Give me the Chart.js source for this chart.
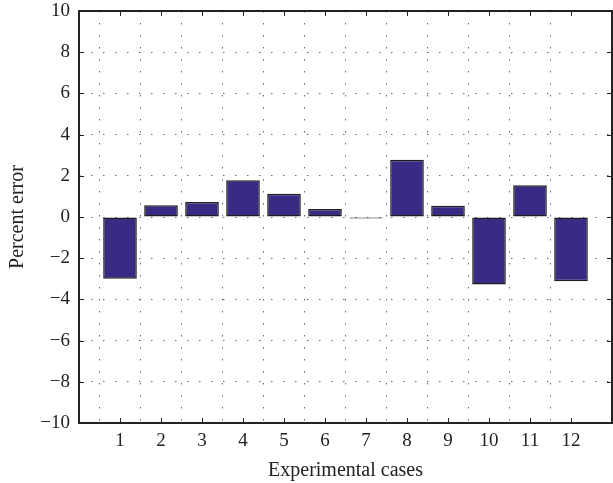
<!DOCTYPE html>
<html>
<head>
<meta charset="utf-8">
<script src="https://cdn.jsdelivr.net/npm/chart.js@4"></script>
<style>
    html, body { margin: 0; padding: 0; background: #fff; }
    #wrap { width: 613px; height: 483px; }
</style>
</head>
<body>
<div id="wrap"><canvas id="chart" width="613" height="483"></canvas></div>
<script>
const cases = [1, 2, 3, 4, 5, 6, 7, 8, 9, 10, 11, 12];
const percentError = [-3.0, 0.57, 0.73, 1.78, 1.13, 0.39, -0.07, 2.78, 0.55, -3.28, 1.54, -3.12];
const yTicks = [-10, -8, -6, -4, -2, 0, 2, 4, 6, 8, 10];

const SERIF = "'Liberation Serif', 'DejaVu Serif', serif";
const TICK_FONT = { family: SERIF, size: 19 };
const TITLE_FONT = { family: SERIF, size: 20 };
const INK = '#222';

// inward tick marks and the frame, like the original plot
const frameTicks = {
    id: 'frameTicks',
    afterDraw(chart) {
        const { ctx, chartArea: a, scales } = chart;
        ctx.save();
        ctx.strokeStyle = INK;
        ctx.lineWidth = 1;
        ctx.beginPath();
        cases.forEach((c) => {
            const px = Math.round(scales.x.getPixelForValue(c)) + 0.5;
            ctx.moveTo(px, a.bottom); ctx.lineTo(px, a.bottom - 5);
            ctx.moveTo(px, a.top); ctx.lineTo(px, a.top + 5);
        });
        yTicks.forEach((v) => {
            const py = Math.round(scales.y.getPixelForValue(v)) + 0.5;
            ctx.moveTo(a.left, py); ctx.lineTo(a.left + 5, py);
            ctx.moveTo(a.right, py); ctx.lineTo(a.right - 5, py);
        });
        ctx.stroke();
        ctx.lineWidth = 2;
        ctx.strokeRect(a.left, a.top, a.right - a.left, a.bottom - a.top);
        ctx.restore();
    },
};

new Chart(document.getElementById('chart'), {
    type: 'bar',
    data: {
        datasets: [{
            data: cases.map((c, i) => ({ x: c, y: percentError[i] })),
            backgroundColor: '#392a84',
            borderColor: '#1e1e1e',
            borderWidth: 1.5,
            borderSkipped: false,
            categoryPercentage: 1,
            barPercentage: 0.82,
        }],
    },
    options: {
        responsive: false,
        animation: false,
        layout: { padding: { top: 11, right: 1, left: 0, bottom: 0 } },
        plugins: { legend: { display: false }, tooltip: { enabled: false } },
        scales: {
            x: {
                type: 'linear',
                min: 0,
                max: 13,
                offset: false,
                afterFit: (s) => { s.height = 60; s.paddingLeft = 0; s.paddingRight = 0; },
                ticks: {
                    stepSize: 1,
                    color: INK,
                    font: TICK_FONT,
                    padding: 7,
                    maxRotation: 0,
                    callback: (v) => (v >= 1 && v <= 12 ? String(v) : ''),
                },
                grid: {
                    drawTicks: false,
                    color: (ctx) => (ctx.tick && (ctx.tick.value <= 0 || ctx.tick.value >= 13) ? 'rgba(0,0,0,0)' : '#666'),
                    lineWidth: 1,
                },
                border: { display: false, dash: [1.5, 10.5] },
                title: { display: true, text: 'Experimental cases', color: INK, font: TITLE_FONT, padding: { top: 0, bottom: 0 } },
            },
            y: {
                min: -10,
                max: 10,
                afterFit: (s) => { s.width = 79; s.paddingTop = 0; s.paddingBottom = 0; },
                ticks: {
                    stepSize: 2,
                    color: INK,
                    font: TICK_FONT,
                    padding: 9,
                    callback: (v) => (v < 0 ? '\u2212' + Math.abs(v) : String(v)),
                },
                grid: {
                    drawTicks: false,
                    color: (ctx) => (ctx.tick && Math.abs(ctx.tick.value) >= 10 ? 'rgba(0,0,0,0)' : '#666'),
                    lineWidth: 1,
                },
                border: { display: false, dash: [1.5, 10.5] },
                title: { display: true, text: 'Percent error', color: INK, font: TITLE_FONT, padding: { top: 6, bottom: 0 } },
            },
        },
    },
    plugins: [frameTicks],
});
</script>
</body>
</html>
